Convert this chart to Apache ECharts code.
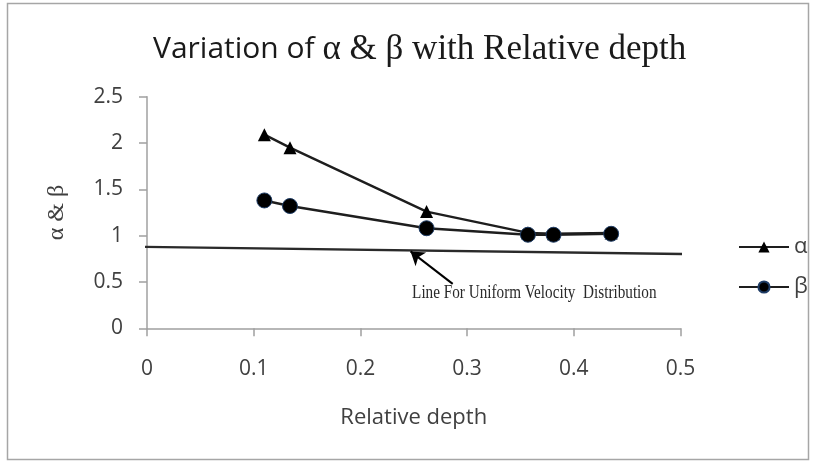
<!DOCTYPE html>
<html><head><meta charset="utf-8">
<script src="https://cdn.jsdelivr.net/npm/echarts@6/dist/echarts.min.js"></script>
<style>html,body{margin:0;padding:0;background:#fff}#c{width:817px;height:463px}</style>
</head><body><div id="c"></div>
<script>
const depth = [0.110, 0.134, 0.262, 0.357, 0.381, 0.435];
const alphaVals = [2.09, 1.95, 1.26, 1.03, 1.02, 1.03];
const betaVals = [1.38, 1.32, 1.08, 1.01, 1.01, 1.02];
const uniformLine = [[-0.011, 0.88], [0.516, 0.80]];
const arrowFrom = [0.2865, 0.48];
const arrowTo = [0.247, 0.83];
const noteText = 'Line For Uniform Velocity  Distribution';
const notePos = [0.363, 0.378];
const xTicks = [0, 0.1, 0.2, 0.3, 0.4, 0.5];
const yTicks = [0, 0.5, 1, 1.5, 2, 2.5];

const chart = echarts.init(document.getElementById('c'));
const lineCol = '#1e1e1e';
const labCol = '#404040';
chart.setOption({
  animation: false,
  backgroundColor: '#fff',
  title: {
    text: '{a|Variation of }{b|\u03b1 & \u03b2 with Relative depth}',
    left: 148, top: 27,
    textStyle: {
      fontWeight: 'normal',
      rich: {
        a: {fontFamily: 'Open Sans', fontSize: 30, color: '#1a1a1a', fontWeight: 'normal'},
        b: {fontFamily: 'Liberation Serif', fontSize: 35, color: '#1a1a1a', fontWeight: 'normal'}
      }
    }
  },
  graphic: [{
    id: 'border', type: 'rect', shape: {x: 7.5, y: 3.5, width: 801, height: 456},
    style: {fill: 'none', stroke: '#a6a6a6', lineWidth: 1.5}, silent: true
  }],
  legend: {
    orient: 'vertical', left: 733, top: 231, itemGap: 18,
    itemWidth: 50, itemHeight: 14, itemTextGap: 5,
    textStyle: {fontFamily: 'Open Sans', fontSize: 22, color: labCol},
    data: ['\u03b1', '\u03b2']
  },
  grid: {left: 147, right: 136.5, top: 96.7, bottom: 134.7},
  xAxis: {
    type: 'value', min: 0, max: 0.5, interval: 0.1,
    name: 'Relative depth', nameLocation: 'middle', nameGap: 78, nameMoveOverlap: false,
    nameTextStyle: {fontFamily: 'Open Sans', fontSize: 22, color: labCol},
    axisLine: {show: true, lineStyle: {color: '#a0a0a0', width: 1.5}},
    axisTick: {show: true, length: 8, lineStyle: {color: '#a0a0a0', width: 1.5}},
    splitLine: {show: false},
    axisLabel: {fontFamily: 'Open Sans', fontSize: 21, color: labCol, margin: 30,
      formatter: v => { const t = xTicks.find(k => Math.abs(k - v) < 1e-9); return t === undefined ? '' : String(t); }}
  },
  yAxis: {
    type: 'value', min: 0, max: 2.5, interval: 0.5,
    name: '\u03b1 & \u03b2', nameLocation: 'middle', nameGap: 78, nameRotate: 90, nameMoveOverlap: false,
    nameTextStyle: {fontFamily: 'Liberation Serif', fontSize: 24, color: labCol},
    axisLine: {show: true, lineStyle: {color: '#a0a0a0', width: 1.5}},
    axisTick: {show: true, length: 8, lineStyle: {color: '#a0a0a0', width: 1.5}},
    splitLine: {show: false},
    axisLabel: {fontFamily: 'Open Sans', fontSize: 21, color: labCol, margin: 24,
      formatter: v => { const t = yTicks.find(k => Math.abs(k - v) < 1e-9); return t === undefined ? '' : String(t); }}
  },
  series: [
    {
      name: '\u03b1', type: 'line', data: depth.map((d, i) => [d, alphaVals[i]]),
      symbol: 'triangle', symbolSize: 13,
      lineStyle: {color: lineCol, width: 2.4}, itemStyle: {color: '#000'}
    },
    {
      name: '\u03b2', type: 'line', data: depth.map((d, i) => [d, betaVals[i]]),
      symbol: 'circle', symbolSize: 15,
      lineStyle: {color: lineCol, width: 2.4}, itemStyle: {color: '#000', borderColor: '#1f3d66', borderWidth: 1}
    },
    {
      name: 'uniform', type: 'line', data: uniformLine, clip: false,
      symbol: 'none', lineStyle: {color: '#2a2a2a', width: 2.4}, silent: true,
      markLine: {
        silent: true, symbol: ['none', 'arrow'], symbolSize: 13,
        lineStyle: {color: '#000', width: 2, type: 'solid'}, label: {show: false},
        data: [[{coord: arrowFrom}, {coord: arrowTo}]]
      }
    }
  ]
});
const np = chart.convertToPixel({gridIndex: 0}, notePos);
chart.setOption({
  graphic: [{
    id: 'note', type: 'text', x: np[0], y: np[1], scaleX: 0.8, silent: true,
    style: {text: noteText, fontFamily: 'Liberation Serif', fontSize: 19, fill: '#2a2a2a',
      align: 'center', verticalAlign: 'middle'}
  }]
});
</script></body></html>
